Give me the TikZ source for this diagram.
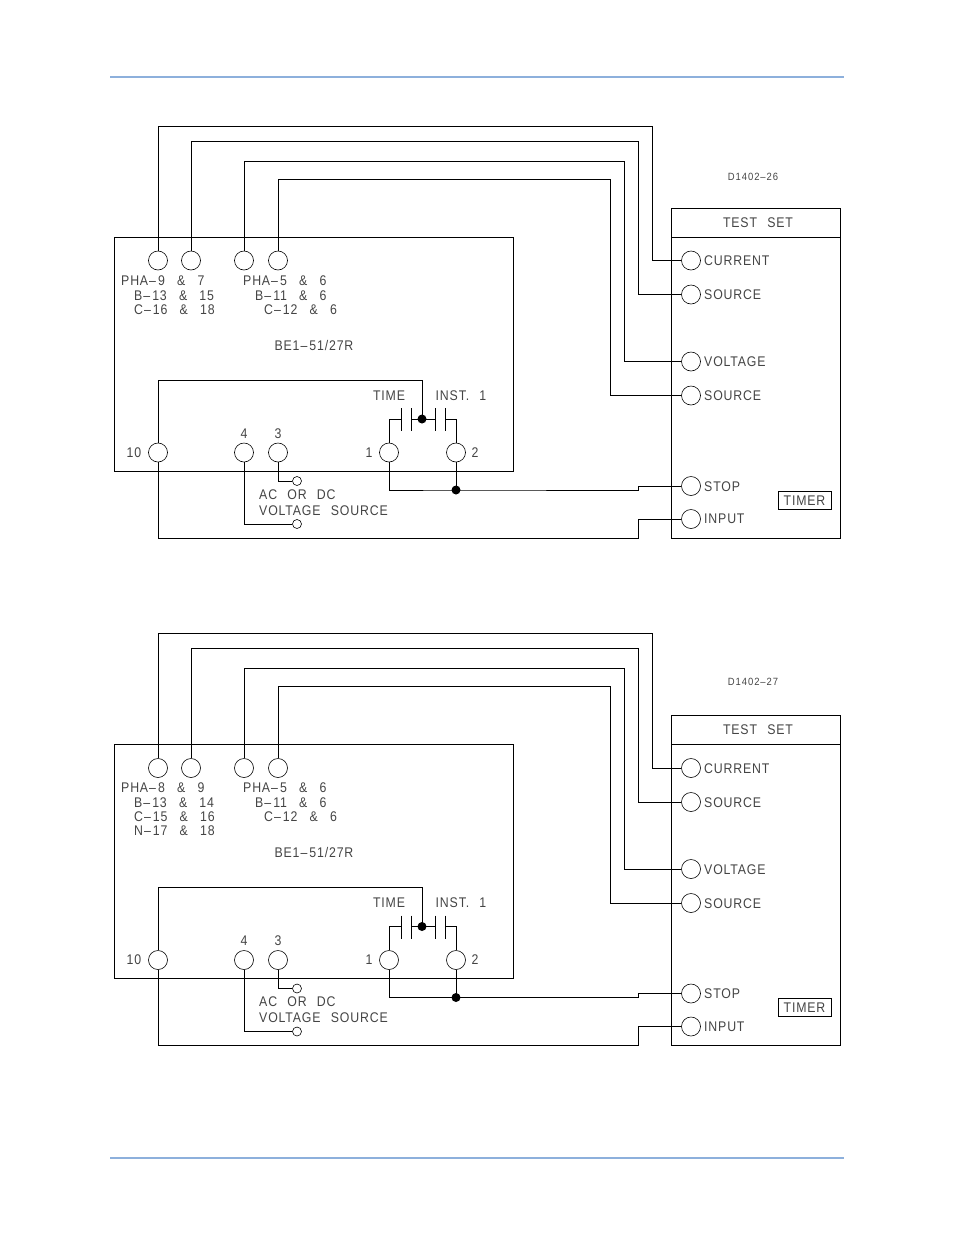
\documentclass[tikz,border=0pt]{standalone}
\usepackage{fontspec}
\setmainfont{Liberation Sans}
\newfontfamily\cadfont[Ligatures=TeX,FakeStretch=0.88,LetterSpace=6,WordSpace=2.4]{Liberation Sans}
\newfontfamily\dwgfont[Ligatures=TeX,FakeStretch=0.9,LetterSpace=9]{Liberation Sans}
\newcommand{\cadash}{\kern1pt--\kern2pt}
\newcommand{\cadamp}{\kern2pt\&\kern2pt\ }
\definecolor{rulecolor}{HTML}{8DB0DC}
\definecolor{cadtext}{HTML}{444444}
\begin{document}
\begin{tikzpicture}
        [
            x=1pt,y=-1pt,
            wire/.style={line width=0.9pt,black},
            term/.style={circle,draw=black,line width=0.6pt,inner sep=0pt,minimum size=19pt},
            pin/.style={circle,draw=black,line width=0.6pt,inner sep=0pt,minimum size=9pt},
            dot/.style={circle,fill=black,inner sep=0pt,minimum size=9pt},
            cadlabel/.style={inner sep=0pt,yshift=-0.2pt,text=cadtext,font=\cadfont\fontsize{14}{14}\selectfont},
            lefttext/.style={cadlabel,anchor=west},
        ]
    \useasboundingbox (0,0) rectangle (954,1235);
    \draw[rulecolor,line width=1.2pt] (110,77) -- (844,77);
    \draw[rulecolor,line width=1.2pt] (110,1158) -- (844,1158);

    \foreach \p/\dy/\dwg/\dwgy in {a/0/D1402--26/177,b/507.5/D1402--27/174.5}{
    \begin{scope}[yshift=-\dy pt]
        % relay case and test set
        \node[draw=black,line width=0.9pt,minimum width=399pt,minimum height=234pt,inner sep=0pt] (\p-relay) at (313.5,354) {};
        \node[draw=black,line width=0.9pt,minimum width=169pt,minimum height=330pt,inner sep=0pt] (\p-set) at (755.5,373) {};
        \draw[wire] (671,237) -- (840,237);
        \node[cadlabel] (\p-settitle) at (758,222) {TEST SET};
        \node[draw=black,line width=0.9pt,minimum width=53pt,minimum height=18pt,inner sep=0pt,cadlabel] (\p-timer) at (804.5,500.2) {TIMER};
        \node[cadlabel,font=\dwgfont\fontsize{10.5}{11}\selectfont] (\p-dwg) at (753,\dwgy) {\dwg};
        \node[cadlabel] (\p-name) at (314,345) {BE1\cadash 51/27R};

        % terminals
        \foreach \n/\x/\y in {ia/158/260.5,va/191/260.5,ib/244/260.5,vb/278/260.5,t10/158/452.5,t4/244/452.5,t3/278/452.5,t1/389/452.5,t2/456/452.5}
            \node[term] (\p-\n) at (\x,\y) {};
        \foreach \n/\y/\txt in {cur/260.5/CURRENT,src/294.5/SOURCE,volt/361.5/VOLTAGE,ret/395.5/SOURCE,stop/486/STOP,inp/519/INPUT}{
            \node[term] (\p-\n) at (691,\y) {};
            \node[lefttext] (\p-\n-txt) at (704,\y) {\txt};
        }
        \node[pin] (\p-pa) at (297,481) {};
        \node[pin] (\p-pb) at (297,524) {};
        \node[dot] (\p-dota) at (422,419) {};
        \node[dot] (\p-dotb) at (456,490) {};

        % wires to the test set
        \draw[wire] (\p-ia.north) |- (652,126) |- (\p-cur.west);
        \draw[wire] (\p-va.north) |- (638,141) |- (\p-src.west);
        \draw[wire] (\p-ib.north) |- (624,161) |- (\p-volt.west);
        \draw[wire] (\p-vb.north) |- (610,179) |- (\p-ret.west);
        \draw[wire] (\p-t1.south) |- (\p-dotb.center) -- (638,490) -- (638,486) -- (\p-stop.west);
        \draw[wire] (\p-t2.south) -- (\p-dotb.center);
        \draw[wire] (\p-t10.south) |- (638,538) |- (\p-inp.west);
        \draw[wire] (\p-t3.south) |- (\p-pa.west);
        \draw[wire] (\p-t4.south) |- (\p-pb.west);

        % contacts
        \draw[wire] (\p-t10.north) |- (422,380) -- (\p-dota.center);
        \draw[wire] (\p-t1.north) |- (401,419);
        \draw[wire] (\p-t2.north) |- (445,419);
        \draw[wire] (411,419) -- (435,419);
        \foreach \x in {401,411,435,445}
            \draw[wire] (\x,408) -- (\x,431);

        % fixed labels
        \foreach \x/\y/\txt in {134/452/10,244/433/4,278/433/3,369/452/1,475/452/2,389/395/TIME,461/395/INST. 1}
            \node[cadlabel] at (\x,\y) {\txt};
        \node[lefttext] at (259,494) {AC OR DC};
        \node[lefttext] at (259,510) {VOLTAGE SOURCE};
        \foreach \x/\y/\txt in {243/280/PHA\cadash 5 \cadamp 6,255/295/B\cadash 11 \cadamp 6,264/309/C\cadash 12 \cadamp 6}
            \node[lefttext] at (\x,\y) {\txt};
    \end{scope}
    }

    % pickup settings differ
    \foreach \x/\y/\txt in {121/280/PHA\cadash 9 \cadamp 7,134/295/B\cadash 13 \cadamp 15,134/309/C\cadash 16 \cadamp 18,
                            121/787.5/PHA\cadash 8 \cadamp 9,134/802/B\cadash 13 \cadamp 14,134/816/C\cadash 15 \cadamp 16,134/830/N\cadash 17 \cadamp 18}
        \node[lefttext] at (\x,\y) {\txt};
\end{tikzpicture}
\end{document}
